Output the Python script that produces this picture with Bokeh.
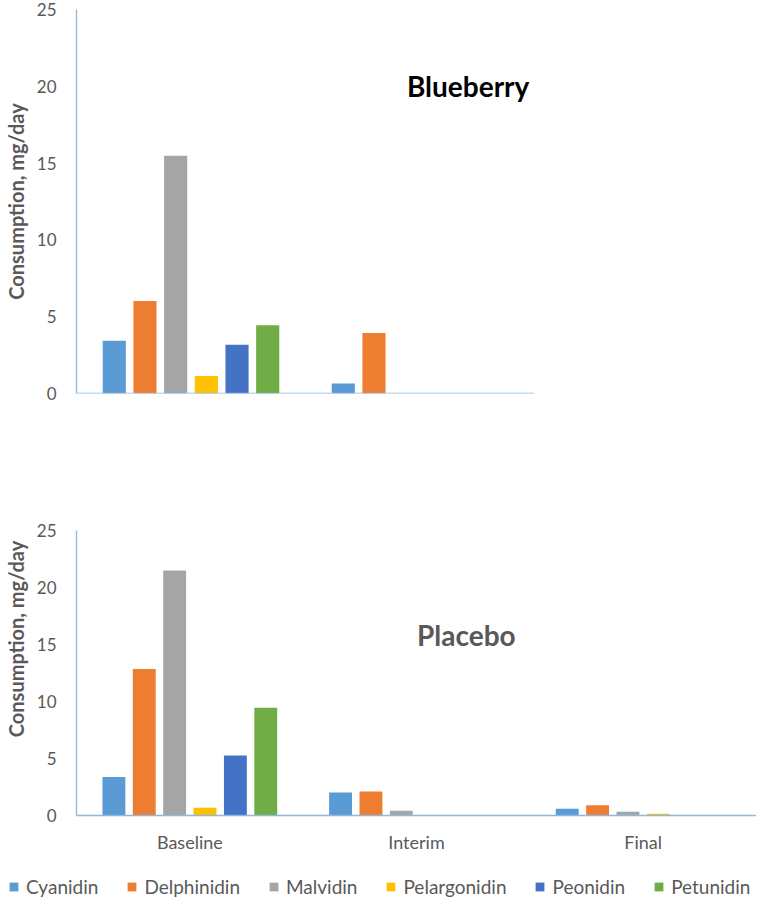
from bokeh.plotting import figure
from bokeh.models import FactorRange, Range1d, Legend, LegendItem, Label, ColumnDataSource, FixedTicker, Span
from bokeh.transform import dodge
from bokeh.layouts import column, row
from bokeh.embed import file_html
from bokeh.resources import INLINE

# ---- data ----
periods = ["Baseline", "Interim", "Final"]
blueberry_periods = ["Baseline", "Interim"]
compounds = ["Cyanidin", "Delphinidin", "Malvidin", "Pelargonidin", "Peonidin", "Petunidin"]
colors = ["#5B9BD5", "#ED7D31", "#A5A5A5", "#FFC000", "#4472C4", "#70AD47"]

blueberry_cyanidin = [3.44, 0.65]
blueberry_delphinidin = [6.03, 3.94]
blueberry_malvidin = [15.48, 0.0]
blueberry_pelargonidin = [1.14, 0.0]
blueberry_peonidin = [3.17, 0.0]
blueberry_petunidin = [4.44, 0.0]

placebo_cyanidin = [3.37, 2.02, 0.59]
placebo_delphinidin = [12.84, 2.10, 0.91]
placebo_malvidin = [21.49, 0.41, 0.32]
placebo_pelargonidin = [0.68, 0.0, 0.15]
placebo_peonidin = [5.26, 0.0, 0.0]
placebo_petunidin = [9.45, 0.0, 0.0]

y_ticks = [0, 5, 10, 15, 20, 25]

blueberry_series = [blueberry_cyanidin, blueberry_delphinidin, blueberry_malvidin,
                    blueberry_pelargonidin, blueberry_peonidin, blueberry_petunidin]
placebo_series = [placebo_cyanidin, placebo_delphinidin, placebo_malvidin,
                  placebo_pelargonidin, placebo_peonidin, placebo_petunidin]

FONT = "Lato"
GRAY = "#595959"
AXIS = "#8FB8E0"
PITCH = 0.134
BAR_W = 0.101
LEFT = 75


def style(p, label_text):
    p.outline_line_color = None
    p.xgrid.grid_line_color = None
    p.ygrid.grid_line_color = None
    p.background_fill_color = "white"
    p.border_fill_color = "white"
    for ax in (p.xaxis[0], p.yaxis[0]):
        ax.axis_line_color = AXIS
        ax.axis_line_width = 1.3
        ax.major_tick_line_color = None
        ax.minor_tick_line_color = None
        ax.major_label_text_font = FONT
        ax.major_label_text_color = GRAY
    p.yaxis[0].ticker = FixedTicker(ticks=y_ticks)
    p.yaxis[0].major_label_text_font_size = "17px"
    p.yaxis[0].major_label_standoff = 14
    p.yaxis[0].axis_label = label_text
    p.yaxis[0].axis_label_text_font = FONT
    p.yaxis[0].axis_label_text_font_style = "bold"
    p.yaxis[0].axis_label_text_font_size = "20px"
    p.yaxis[0].axis_label_text_color = GRAY
    p.yaxis[0].axis_label_standoff = 6


def make_source(cats, series):
    data = {"period": cats}
    for name, vals in zip(compounds, series):
        data[name] = vals
    return ColumnDataSource(data)


def add_bars(p, src, xr):
    rends = []
    for i, (name, col) in enumerate(zip(compounds, colors)):
        r = p.vbar(x=dodge("period", (i - 2.5) * PITCH, range=xr), top=name, width=BAR_W,
                   source=src, fill_color=col, line_color=None)
        rends.append(r)
    return rends


Y_LABEL = "Consumption, mg/day"

# ---- top: Blueberry ----
xr_top = FactorRange(*blueberry_periods, range_padding=0)
top = figure(x_range=xr_top, y_range=Range1d(0, 25), width=LEFT + 459, height=406,
             output_backend="svg", toolbar_location=None,
             min_border_left=LEFT, min_border_right=0,
             min_border_top=9, min_border_bottom=13)
style(top, Y_LABEL)
top.xaxis.visible = False
top.add_layout(Span(location=0, dimension="width", line_color=AXIS, line_width=1.3))
add_bars(top, make_source(blueberry_periods, blueberry_series), xr_top)
top.add_layout(Label(x=1.71, y=20.0, text="Blueberry", text_font=FONT, text_font_style="bold",
                     text_font_size="28px", text_color="black", text_align="center",
                     text_baseline="middle"))

# ---- bottom: Placebo ----
xr_bot = FactorRange(*periods, range_padding=0)
bot = figure(x_range=xr_bot, y_range=Range1d(0, 25), width=LEFT + 681, height=453,
             output_backend="svg", toolbar_location=None,
             min_border_left=LEFT, min_border_right=0,
             min_border_top=124, min_border_bottom=44)
style(bot, "\u00a0" * 14 + Y_LABEL)
bot.xaxis[0].major_label_text_font_size = "18px"
bot.xaxis[0].major_label_standoff = 9
placebo_src = make_source(periods, placebo_series)
add_bars(bot, placebo_src, xr_bot)
bot.add_layout(Label(x=1.72, y=15.8, text="Placebo", text_font=FONT, text_font_style="bold",
                     text_font_size="28px", text_color=GRAY, text_align="center",
                     text_baseline="middle"))

# ---- legend strip (bars out of view, only legend swatches show) ----
xr_leg = FactorRange(*periods, range_padding=0)
leg = figure(x_range=xr_leg, y_range=Range1d(1000, 1001), width=LEFT + 681, height=39,
             output_backend="svg", toolbar_location=None,
             min_border_left=0, min_border_right=0, min_border_top=0, min_border_bottom=0)
leg.axis.visible = False
leg.grid.visible = False
leg.outline_line_color = None
leg_rends = add_bars(leg, placebo_src, xr_leg)
legend = Legend(items=[LegendItem(label=n, renderers=[r]) for n, r in zip(compounds, leg_rends)],
                orientation="horizontal", location=(8, 0),
                label_text_font=FONT, label_text_font_size="19px", label_text_color=GRAY,
                glyph_width=11, glyph_height=11, label_standoff=7, spacing=28,
                padding=2, margin=0, border_line_color=None, background_fill_alpha=0)
leg.add_layout(legend)

layout = column(top, bot, row(leg), spacing=0)
open("out.html", "w").write(file_html(layout, INLINE))
